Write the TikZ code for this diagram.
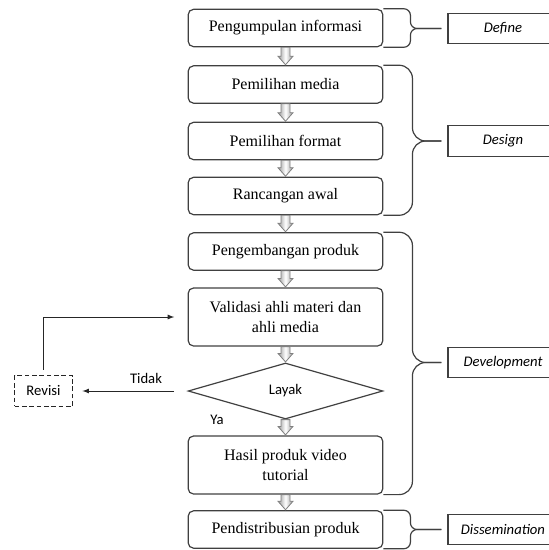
\documentclass[tikz,border=0pt]{standalone}
\usepackage{fontspec}
\setmainfont{Liberation Serif}
\newfontfamily\carlito{Carlito}
\usepackage{tikz}
\usetikzlibrary{shapes.geometric,calc}

\tikzset{
	tahap/.style={draw=black!75, line width=0.9pt, rounded corners=4pt, minimum width=146pt, minimum height=28pt, align=center, font=\fontsize{12}{15.5}\selectfont},
	fase/.style={draw=black!75, line width=0.9pt, minimum width=82.5pt, minimum height=23pt, font=\carlito\itshape\fontsize{11}{13}\selectfont},
	tulisan/.style={font=\carlito\fontsize{11}{13}\selectfont},
	panah/.style={draw=black!50, line width=0.6pt, left color=black!40, right color=black!40, middle color=white},
	kurung/.style={draw=black!75, line width=0.9pt}
}
\newcommand{\aliran}[2]{%
	\path[panah] ($(#1.south)+(-4.5,0)$) -- ($(#2.north)+(-4.5,-9)$) -- ($(#2.north)+(-7.5,-9)$) -- ($(#2.north)+(0,-0.5)$)
		-- ($(#2.north)+(7.5,-9)$) -- ($(#2.north)+(4.5,-9)$) -- ($(#1.south)+(4.5,0)$) -- cycle;}

\begin{document}
\begin{tikzpicture}[>=latex, x=0.75pt, y=-0.75pt]
	\useasboundingbox (0,0) rectangle (549,550);
	%Tahapan
	\node[tahap] (info) at (285.5,28) {Pengumpulan informasi};
	\node[tahap] (media) at (285.5,84.5) {Pemilihan media};
	\node[tahap] (format) at (285.5,141) {Pemilihan format};
	\node[tahap] (awal) at (285.5,196) {Rancangan awal};
	\node[tahap] (kembang) at (285.5,251.5) {Pengembangan produk};
	\node[tahap, minimum height=43.5pt] (validasi) at (285.5,317) {Validasi ahli materi dan\\ahli media};
	\node[draw=black!75, line width=0.9pt, diamond, aspect=3.5, inner sep=0pt, minimum width=146pt, minimum height=42pt, tulisan] (layak) at (285.5,391) {Layak};
	\node[tahap, minimum height=43.5pt] (hasil) at (285.5,465) {Hasil produk video\\tutorial};
	\node[tahap] (distribusi) at (285.5,529.5) {Pendistribusian produk};
	%Panah antar tahap
	\aliran{info}{media}
	\aliran{media}{format}
	\aliran{format}{awal}
	\aliran{awal}{kembang}
	\aliran{kembang}{validasi}
	\aliran{validasi}{layak}
	\aliran{layak}{hasil}
	\aliran{hasil}{distribusi}
	%Revisi
	\node[draw=black!85, line width=0.9pt, dash pattern=on 3.5pt off 2pt, minimum width=43.5pt, minimum height=23pt, tulisan] (revisi) at (43.5,391) {Revisi};
	\draw[->, black!85, line width=0.7pt, shorten <=10pt, shorten >=7pt] (layak.west) -- (revisi.east);
	\node[tulisan] (tidak) at (146,378) {Tidak};
	\node[tulisan] (ya) at (217,420) {Ya};
	\draw[->, black!85, line width=0.7pt, shorten <=4pt, shorten >=10pt] (revisi.north) |- (validasi.west);
	%Fase
	\node[fase] (define) at (503,28.5) {Define};
	\node[fase] (design) at (503,141) {Design};
	\node[fase] (develop) at (503,362.5) {Development};
	\node[fase] (dissem) at (503,529.5) {Dissemination};
	%Kurung
	\draw[kurung, rounded corners=5pt, shorten >=4.5pt] (info.north east) -- ++(27,0) |- (define.west);
	\draw[kurung, rounded corners=5pt, shorten >=4.5pt] (info.south east) -- ++(27,0) |- (define.west);
	\draw[kurung, rounded corners=10pt, shorten >=4.5pt] (media.north east) -- ++(29,0) |- (design.west);
	\draw[kurung, rounded corners=10pt, shorten >=4.5pt] (awal.south east) -- ++(29,0) |- (design.west);
	\draw[kurung, rounded corners=10pt, shorten >=4.5pt] (kembang.north east) -- ++(29,0) |- (develop.west);
	\draw[kurung, rounded corners=10pt, shorten >=4.5pt] (hasil.south east) -- ++(29,0) |- (develop.west);
	\draw[kurung, rounded corners=5pt, shorten >=4.5pt] (distribusi.north east) -- ++(27,0) |- (dissem.west);
	\draw[kurung, rounded corners=5pt, shorten >=4.5pt] (distribusi.south east) -- ++(27,0) |- (dissem.west);
\end{tikzpicture}
\end{document}
